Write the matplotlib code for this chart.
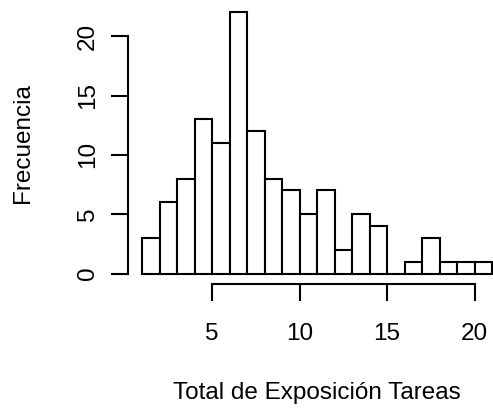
import matplotlib
matplotlib.use("Agg")
import matplotlib.pyplot as plt
import numpy as np

# Histogram of total task exposure: unit-width bins from 1 to 21
bin_edges = list(range(1, 22))
counts = [3, 6, 8, 13, 11, 22, 12, 8, 7, 5, 7, 2, 5, 4, 0, 1, 3, 1, 1, 1]
x_ticks = [5, 10, 15, 20]
y_ticks = [0, 5, 10, 15, 20]
x_title = "Total de Exposición Tareas"
y_title = "Frecuencia"

plt.rcParams["font.family"] = ["Liberation Sans", "DejaVu Sans"]
FS = 17.5

W, H = 493, 415
fig = plt.figure(figsize=(W / 100, H / 100), dpi=100)
fig.patch.set_facecolor("white")

# plot region in pixels (left, top, width, height)
L, T, PW, PH = 128, 2, 378, 282
ax = fig.add_axes([L / W, 1 - (T + PH) / H, PW / W, PH / H])

lefts = np.array(bin_edges[:-1])
widths = np.diff(bin_edges)
ax.bar(lefts, counts, width=widths, align="edge", facecolor="white",
       edgecolor="black", linewidth=1.5)

ax.set_xlim(0.2, 21.8)
ax.set_ylim(-0.88, 22.88)

for s in ["top", "right"]:
    ax.spines[s].set_visible(False)
ax.spines["left"].set_bounds(y_ticks[0], y_ticks[-1])
ax.spines["bottom"].set_bounds(x_ticks[0], x_ticks[-1])
for s in ["left", "bottom"]:
    ax.spines[s].set_linewidth(1.5)

ax.set_xticks(x_ticks)
ax.set_yticks(y_ticks)
ax.set_xticklabels([str(v) for v in x_ticks])
ax.set_yticklabels([str(v) for v in y_ticks], rotation=90, va="center")
ax.tick_params(axis="both", length=12, width=1.5, labelsize=FS,
               colors="black")
ax.tick_params(axis="x", pad=16)
ax.tick_params(axis="y", pad=9)

fig.text((L + PW / 2) / W, 1 - 393 / H, x_title, ha="center", va="center",
         fontsize=FS)
fig.text(23 / W, 1 - 143 / H, y_title, ha="center", va="center",
         rotation=90, fontsize=FS)

fig.savefig("out.png", dpi=100, facecolor="white")
